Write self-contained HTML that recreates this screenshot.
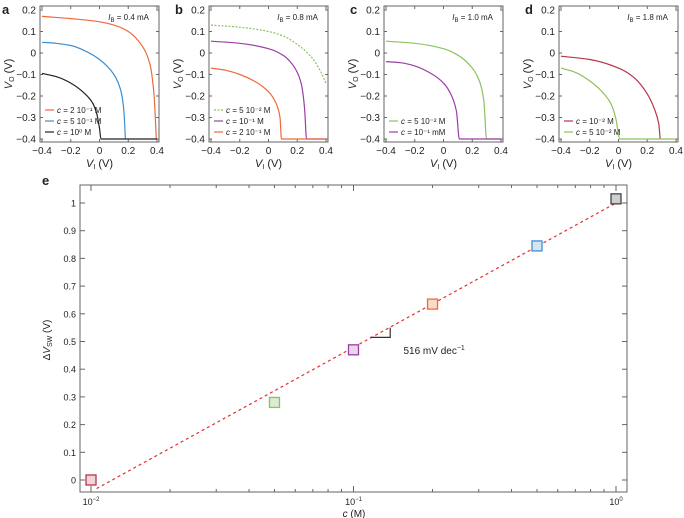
<!DOCTYPE html>
<html><head><meta charset="utf-8"><style>
body{margin:0;background:#fff;}
svg{display:block;font-family:"Liberation Sans",Arial,sans-serif;}
</style></head><body>
<svg id="fig" width="684" height="518" viewBox="0 0 684 518"></svg>
<script>
const NS="http://www.w3.org/2000/svg";
const svg=document.getElementById('fig');
// ---------- data: panels a-d ----------
const panelLetters=["a","b","c","d"];
const panelIb=["0.4","0.8","1.0","1.8"];
const xTicks=[-0.4,-0.2,0,0.2,0.4];
const xTickLabels=["\u22120.4","\u22120.2","0","0.2","0.4"];
const yTicks=[0.2,0.1,0,-0.1,-0.2,-0.3,-0.4];
const yTickLabels=["0.2","0.1","0","\u22120.1","\u22120.2","\u22120.3","\u22120.4"];
const aOrangeX=[-0.4,-0.2,0,0.1,0.2,0.3,0.35,0.38,0.395];
const aOrangeY=[0.17,0.16,0.145,0.13,0.10,0.03,-0.05,-0.2,-0.4];
const aBlueX=[-0.4,-0.3,-0.2,-0.1,0,0.1,0.15,0.17,0.18];
const aBlueY=[0.05,0.045,0.035,0.01,-0.03,-0.1,-0.18,-0.27,-0.4];
const aBlackX=[-0.4,-0.3,-0.2,-0.1,-0.05,-0.02,0,0.01,0.4];
const aBlackY=[-0.095,-0.11,-0.14,-0.19,-0.23,-0.28,-0.35,-0.4,-0.4];
const bGreenX=[-0.4,-0.2,0,0.1,0.2,0.3,0.35,0.4];
const bGreenY=[0.13,0.12,0.1,0.08,0.04,-0.02,-0.07,-0.14];
const bPurpleX=[-0.4,-0.2,0,0.1,0.15,0.2,0.23,0.25,0.265,0.4];
const bPurpleY=[0.055,0.045,0.02,-0.01,-0.04,-0.09,-0.15,-0.25,-0.4,-0.4];
const bOrangeX=[-0.4,-0.3,-0.2,-0.1,0,0.05,0.08,0.09,0.4];
const bOrangeY=[-0.07,-0.08,-0.1,-0.13,-0.18,-0.23,-0.3,-0.4,-0.4];
const cGreenX=[-0.4,-0.2,0,0.1,0.2,0.25,0.28,0.3,0.4];
const cGreenY=[0.055,0.045,0.02,-0.01,-0.07,-0.13,-0.22,-0.4,-0.4];
const cPurpleX=[-0.4,-0.3,-0.2,-0.1,0,0.05,0.09,0.11,0.4];
const cPurpleY=[-0.04,-0.045,-0.06,-0.09,-0.14,-0.19,-0.27,-0.4,-0.4];
const dRedX=[-0.4,-0.2,0,0.1,0.2,0.25,0.28,0.29];
const dRedY=[-0.015,-0.03,-0.07,-0.11,-0.19,-0.26,-0.33,-0.4];
const dGreenX=[-0.4,-0.3,-0.2,-0.1,-0.05,-0.02,0.01,0.4];
const dGreenY=[-0.07,-0.09,-0.13,-0.19,-0.24,-0.3,-0.4,-0.4];
// ---------- data: panel e ----------
const eConc=[0.01,0.05,0.1,0.2,0.5,1];
const eDV=[0,0.28,0.47,0.635,0.845,1.015];
const eYTicks=[0,0.1,0.2,0.3,0.4,0.5,0.6,0.7,0.8,0.9,1];
const eYTickLabels=["0","0.1","0.2","0.3","0.4","0.5","0.6","0.7","0.8","0.9","1"];
const eFitC=[0.0105,1];
const eFitV=[-0.031,1.0];

const ORANGE="#ec6a3f",BLUE="#3d8fd1",BLACK="#222",GREEN="#8cc25e",PURPLE="#9b3ea7",RED="#b8344c";
const panels=[
 {series:[[aOrangeX,aOrangeY,ORANGE,"c = 2 10\u207B\u00B9 M",false],[aBlueX,aBlueY,BLUE,"c = 5 10\u207B\u00B9 M",false],[aBlackX,aBlackY,BLACK,"c = 10\u2070 M",false]]},
 {series:[[bGreenX,bGreenY,GREEN,"c = 5 10\u207B\u00B2 M",true],[bPurpleX,bPurpleY,PURPLE,"c = 10\u207B\u00B9 M",false],[bOrangeX,bOrangeY,ORANGE,"c = 2 10\u207B\u00B9 M",false]]},
 {series:[[cGreenX,cGreenY,GREEN,"c = 5 10\u207B\u00B2 M",false],[cPurpleX,cPurpleY,PURPLE,"c = 10\u207B\u00B9  mM",false]]},
 {series:[[dRedX,dRedY,RED,"c = 10\u207B\u00B2 M",false],[dGreenX,dGreenY,GREEN,"c = 5 10\u207B\u00B2 M",false]]}
];
const lefts=[40,209,384,559];
function mk(tag,attrs,parent){const e=document.createElementNS(NS,tag);for(const k in attrs)e.setAttribute(k,attrs[k]);(parent||svg).appendChild(e);return e;}
function txt(s,x,y,size,anchor,parent,extra){const t=mk('text',Object.assign({x:x,y:y,'font-size':size,'text-anchor':anchor||'middle',fill:'#222'},extra||{}),parent);t.textContent=s;return t;}
// monotone cubic path through pixel points
function monoPath(P){
  const n=P.length;if(n<3){return 'M'+P.map(p=>p[0].toFixed(1)+','+p[1].toFixed(1)).join('L');}
  const dx=[],s=[];for(let i=0;i<n-1;i++){dx[i]=P[i+1][0]-P[i][0];s[i]=(P[i+1][1]-P[i][1])/dx[i];}
  const m=[s[0]];for(let i=1;i<n-1;i++){m[i]=(s[i-1]*s[i]<=0)?0:(dx[i-1]+dx[i])/((dx[i-1]/s[i-1])+(dx[i]/s[i]))*1;
    // harmonic-ish weighted
    const w1=2*dx[i]+dx[i-1],w2=dx[i]+2*dx[i-1];if(s[i-1]*s[i]>0)m[i]=(w1+w2)/(w1/s[i-1]+w2/s[i]);}
  m[n-1]=s[n-2];
  let d='M'+P[0][0].toFixed(1)+','+P[0][1].toFixed(1);
  for(let i=0;i<n-1;i++){const h=dx[i]/3;
    d+='C'+(P[i][0]+h).toFixed(1)+','+(P[i][1]+m[i]*h).toFixed(1)+' '+(P[i+1][0]-h).toFixed(1)+','+(P[i+1][1]-m[i+1]*h).toFixed(1)+' '+P[i+1][0].toFixed(1)+','+P[i+1][1].toFixed(1);}
  return d;
}

panels.forEach((p,i)=>{
  const L=lefts[i],R=L+119,T=6,B=142;
  const g=mk('g',{});
  
  
  const xs=v=>L+2+(v+0.4)/0.8*(R-L-4);
  const ys=v=>10+(0.2-v)/0.6*(139-10);
  const lt=txt(panelLetters[i],L-38+(i==0?0:4),14,13,'start',g,{'font-weight':'bold'});
  
  const box=mk('rect',{x:L,y:T,width:R-L,height:B-T,fill:'none',stroke:'#666','stroke-width':1},g);
  
  xTicks.forEach((v,k)=>{const x=xs(v);mk('line',{x1:x,x2:x,y1:B,y2:B-3,stroke:'#666'},g);mk('line',{x1:x,x2:x,y1:T,y2:T+3,stroke:'#666'},g);
    const t=txt(xTickLabels[k],x,154,10,'middle',g);});
  yTicks.forEach((v,k)=>{const y=ys(v);mk('line',{x1:L,x2:L+3,y1:y,y2:y,stroke:'#666'},g);mk('line',{x1:R,x2:R-3,y1:y,y2:y,stroke:'#666'},g);
    const t=txt(yTickLabels[k],L-4,y+3.5,10,'end',g);});
  const xl=txt('',(L+R)/2,167,11,'middle',g);xl.innerHTML='<tspan font-style="italic">V</tspan><tspan font-size="7" dy="2">I</tspan><tspan dy="-2"> (V)</tspan>';
  
  const yl=txt('',0,0,11,'middle',g,{transform:`translate(${L-28},74) rotate(-90)`});yl.innerHTML='<tspan font-style="italic">V</tspan><tspan font-size="7" dy="2">O</tspan><tspan dy="-2"> (V)</tspan>';
  
  const ib=txt('',R-10,20,8,'end',g);ib.innerHTML='<tspan font-style="italic">I</tspan><tspan font-size="6" dy="2">B</tspan><tspan dy="-2"> = '+panelIb[i]+' mA</tspan>';
  
  p.series.forEach((s,k)=>{
    const [X,Y,col,lab,dash]=s;
    const P=X.map((x,j)=>[xs(x),ys(Y[j])]);
    const path=mk('path',{d:monoPath(P),fill:'none',stroke:col,'stroke-width':1.2},g);
    if(dash)path.setAttribute('stroke-dasharray','2,1.5');
    
    const n=p.series.length, ly=B-7-(n-1-k)*11;
    const ll=mk('line',{x1:L+5,x2:L+14,y1:ly-3,y2:ly-3,stroke:col,'stroke-width':1.2},g);
    if(dash)ll.setAttribute('stroke-dasharray','2,1.5');
    
    const lt2=txt('',L+17,ly,8,'start',g);
    lt2.innerHTML='<tspan font-style="italic">c</tspan>'+lab.slice(1);
    
  });
});

// ---------- panel e ----------
(function(){
  const L=80,R=627,T=185,B=492;
  const g=mk('g',{});
  
  
  const xs=c=>91+(Math.log10(c)+2)*262.5;
  const ys=v=>480-v*277;
  const le=txt('e',42,185,13,'start',g,{'font-weight':'bold'});
  
  const box=mk('rect',{x:L,y:T,width:R-L,height:B-T,fill:'none',stroke:'#666','stroke-width':1},g);
  
  eYTicks.forEach((v,k)=>{const y=ys(v);mk('line',{x1:L,x2:L+5,y1:y,y2:y,stroke:'#666'},g);mk('line',{x1:R,x2:R-5,y1:y,y2:y,stroke:'#666'},g);
    const t=txt(eYTickLabels[k],L-4,y+3.5,9,'end',g);});
  [-2,-1,0].forEach(e=>{
    for(let m=1;m<10;m++){const c=m*Math.pow(10,e);if(c>1.05)break;const x=xs(c);const len=m==1?6:3;
      mk('line',{x1:x,x2:x,y1:B,y2:B-len,stroke:'#666'},g);mk('line',{x1:x,x2:x,y1:T,y2:T+len,stroke:'#666'},g);}
    const t=txt('',xs(Math.pow(10,e)),505,9,'middle',g);t.innerHTML='10<tspan font-size="6" dy="-4">\u2212'+(-e)+'</tspan>';
    if(e==0)t.innerHTML='10<tspan font-size="6" dy="-4">0</tspan>';
    
  });
  const xl=txt('',354,517,10,'middle',g);xl.innerHTML='<tspan font-style="italic">c</tspan> (M)';
  
  const yl=txt('',0,0,10,'middle',g,{transform:'translate(50,340) rotate(-90)'});
  yl.innerHTML='\u0394<tspan font-style="italic">V</tspan><tspan font-size="7" dy="2">SW</tspan><tspan dy="-2"> (V)</tspan>';
  
  const fit=mk('line',{x1:xs(eFitC[0]),y1:ys(eFitV[0]),x2:xs(eFitC[1]),y2:ys(eFitV[1]),stroke:'#e53030','stroke-width':1.2,'stroke-dasharray':'3,3'},g);
  
  const cols=[RED,GREEN,PURPLE,ORANGE,BLUE,'#444'];
  const fills=['#f0d4d8','#dcecd0','#ead6ec','#f9dcc8','#d4e4f2','#cfcfcf'];
  eConc.forEach((c,i)=>{const x=xs(c),y=ys(eDV[i]);
    const r=mk('rect',{x:x-5,y:y-5,width:10,height:10,fill:fills[i],stroke:cols[i],'stroke-width':1.3},g);
    });
  const tri=mk('path',{d:`M${xs(0.116)},${ys(0.515)}L${xs(0.138)},${ys(0.515)}L${xs(0.138)},${ys(0.55)}`,fill:'none',stroke:'#333','stroke-width':1.2},g);
  
  const st=txt('',xs(0.155),ys(0.455),10,'start',g);st.innerHTML='516 mV dec<tspan font-size="7" dy="-4">\u22121</tspan>';
  
})();
</script>
</body></html>
